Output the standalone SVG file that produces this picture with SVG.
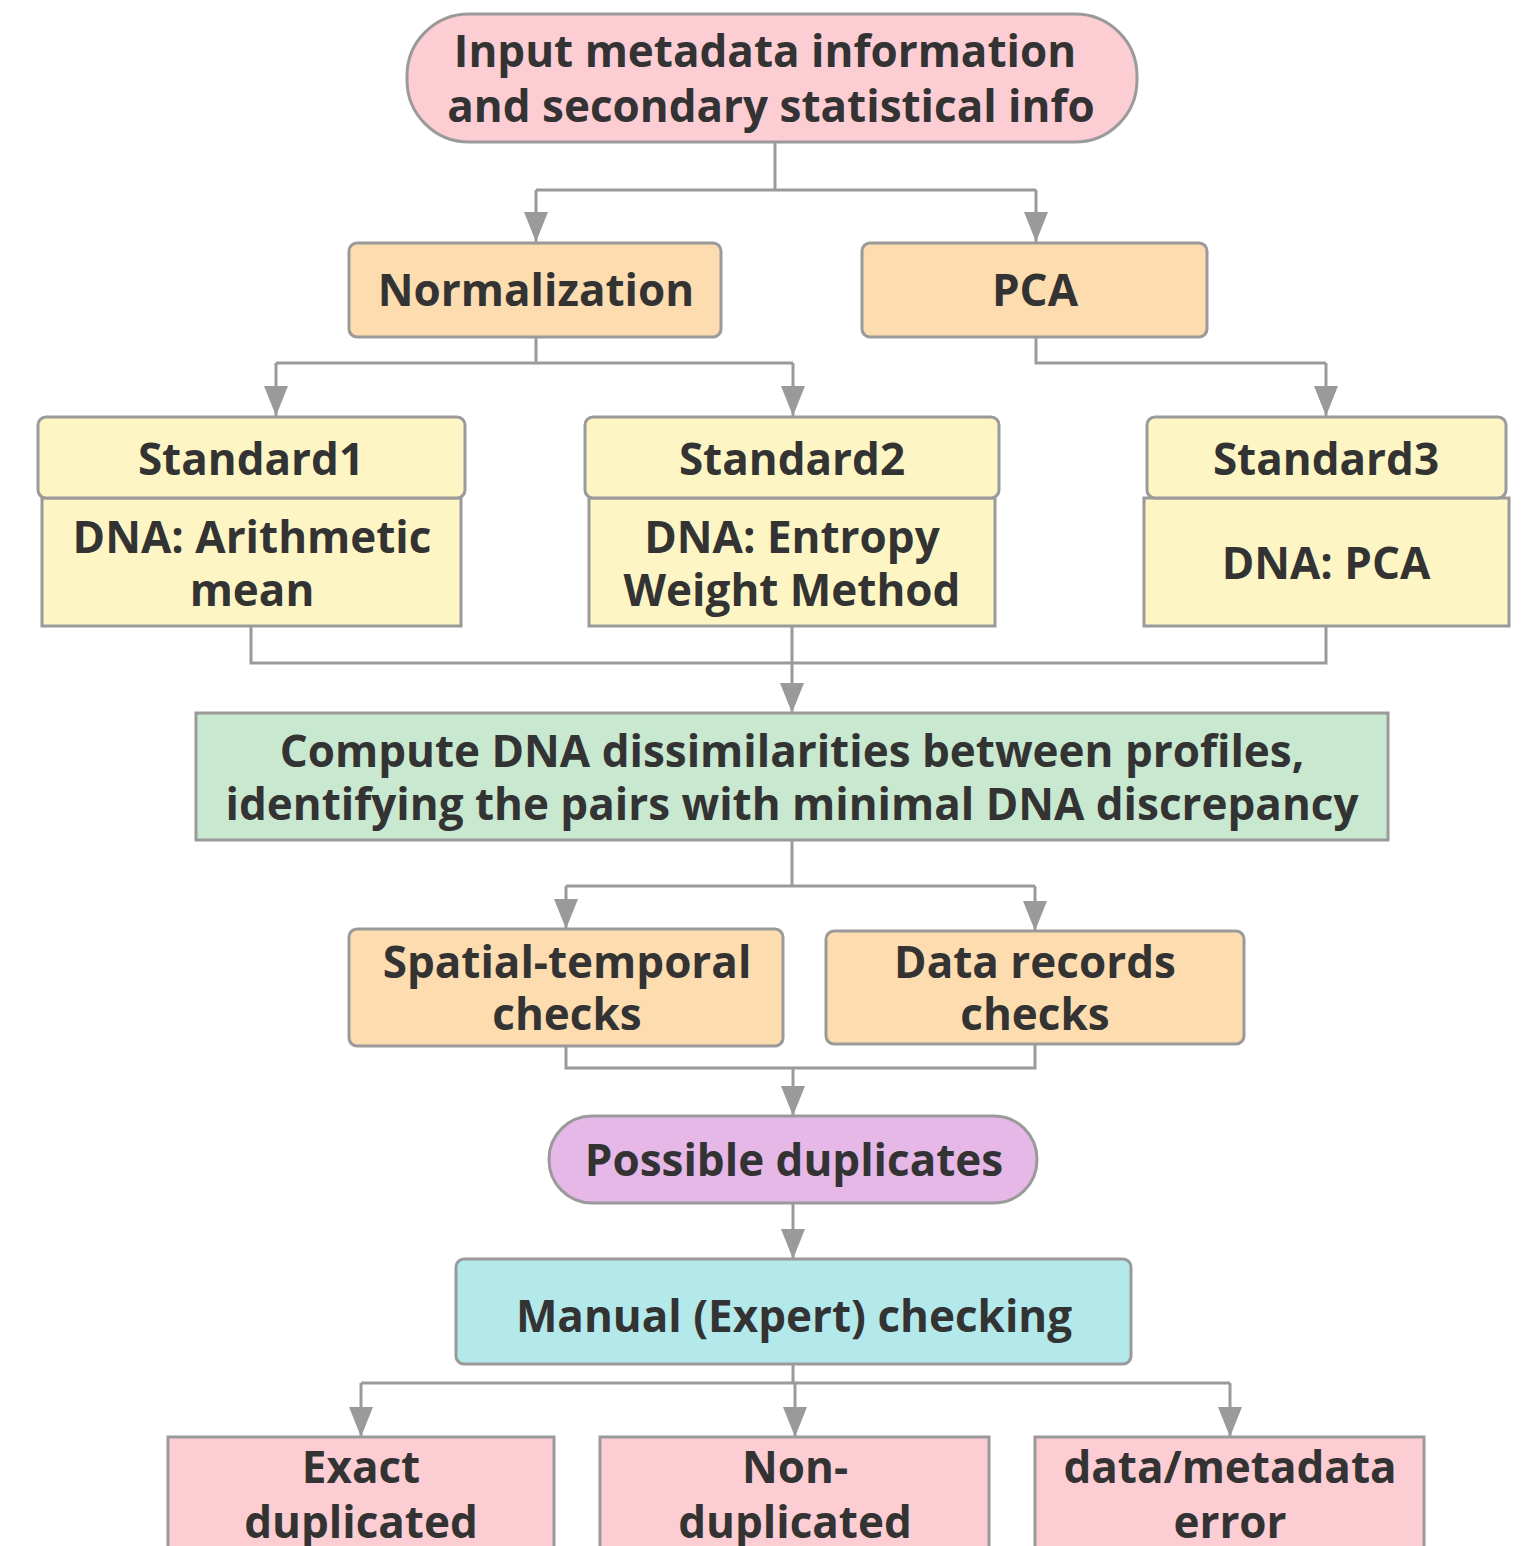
<svg xmlns="http://www.w3.org/2000/svg" width="1522" height="1546" viewBox="0 0 1522 1546">
<style>
text{font-family:"Open Sans","Noto Sans","DejaVu Sans",sans-serif;font-weight:bold;fill:#333;text-anchor:middle;font-size:44px}
.n{stroke:#9a9a9a;stroke-width:3}
.pink{fill:#fdcdd4}.orange{fill:#fddcb0}.yellow{fill:#fdf6c4}.green{fill:#c9e8d0}.purple{fill:#e5b8e7}.cyan{fill:#b4e9eb}
.c{fill:none;stroke:#9a9a9a;stroke-width:3}
</style>
<defs>
<marker id="ah" viewBox="0 0 30 24" refX="30" refY="12" markerWidth="30" markerHeight="24" markerUnits="userSpaceOnUse" orient="auto">
<path d="M0,0 L30,12 L0,24 Z" fill="#9a9a9a"/>
</marker>
</defs>
<g id="connectors">
<path class="c" d="M775,142 V190 M536,190 H1036"/>
<path class="c" d="M536,190 V242" marker-end="url(#ah)"/>
<path class="c" d="M1036,190 V242" marker-end="url(#ah)"/>
<path class="c" d="M536,337 V363 M276,363 H793"/>
<path class="c" d="M276,363 V416" marker-end="url(#ah)"/>
<path class="c" d="M793,363 V416" marker-end="url(#ah)"/>
<path class="c" d="M1036,337 V363 H1326"/>
<path class="c" d="M1326,363 V416" marker-end="url(#ah)"/>
<path class="c" d="M251,626 V663 H1326 V626 M792,626 V663"/>
<path class="c" d="M792,663 V713" marker-end="url(#ah)"/>
<path class="c" d="M792,840 V886 M566,886 H1035"/>
<path class="c" d="M566,886 V929" marker-end="url(#ah)"/>
<path class="c" d="M1035,886 V931" marker-end="url(#ah)"/>
<path class="c" d="M566,1046 V1068 H1035 V1044"/>
<path class="c" d="M793,1068 V1116" marker-end="url(#ah)"/>
<path class="c" d="M793,1203 V1259" marker-end="url(#ah)"/>
<path class="c" d="M793,1364 V1383 M361,1383 H1230"/>
<path class="c" d="M361,1383 V1437" marker-end="url(#ah)"/>
<path class="c" d="M795,1383 V1437" marker-end="url(#ah)"/>
<path class="c" d="M1230,1383 V1437" marker-end="url(#ah)"/>
</g>
<g id="input">
<rect class="n pink" x="407" y="14" width="730" height="128" rx="62"/>
<text x="765" y="67" font-size="45.5">Input metadata information</text>
<text x="771" y="122" font-size="45.5">and secondary statistical info</text>
</g>
<g id="normalization">
<rect class="n orange" x="349" y="243" width="372" height="94" rx="8"/>
<text x="536" y="306" font-size="45.5">Normalization</text>
</g>
<g id="pca">
<rect class="n orange" x="862" y="243" width="345" height="94" rx="8"/>
<text x="1035" y="306" font-size="45.5">PCA</text>
</g>
<g id="standard1">
<rect class="n yellow" x="42" y="498" width="419" height="128"/>
<rect class="n yellow" x="38" y="417" width="427" height="81" rx="8"/>
<text x="251" y="475">Standard1</text>
<text x="252" y="553">DNA: Arithmetic</text>
<text x="252" y="606">mean</text>
</g>
<g id="standard2">
<rect class="n yellow" x="589" y="498" width="406" height="128"/>
<rect class="n yellow" x="585" y="417" width="414" height="81" rx="8"/>
<text x="792" y="475">Standard2</text>
<text x="792" y="553">DNA: Entropy</text>
<text x="792" y="606">Weight Method</text>
</g>
<g id="standard3">
<rect class="n yellow" x="1144" y="498" width="365" height="128"/>
<rect class="n yellow" x="1147" y="417" width="359" height="81" rx="8"/>
<text x="1326" y="475">Standard3</text>
<text x="1326" y="579">DNA: PCA</text>
</g>
<g id="compute">
<rect class="n green" x="196" y="713" width="1192" height="127"/>
<text x="792" y="767">Compute DNA dissimilarities between profiles,</text>
<text x="792" y="820">identifying the pairs with minimal DNA discrepancy</text>
</g>
<g id="spatial">
<rect class="n orange" x="349" y="929" width="434" height="117" rx="8"/>
<text x="567" y="978">Spatial-temporal</text>
<text x="567" y="1030">checks</text>
</g>
<g id="records">
<rect class="n orange" x="826" y="931" width="418" height="113" rx="8"/>
<text x="1035" y="978">Data records</text>
<text x="1035" y="1030">checks</text>
</g>
<g id="possible">
<rect class="n purple" x="549" y="1116" width="488" height="87" rx="43"/>
<text x="794" y="1176">Possible duplicates</text>
</g>
<g id="manual">
<rect class="n cyan" x="456" y="1259" width="675" height="105" rx="8"/>
<text x="794" y="1332" font-size="53.5">Manual (Expert) checking</text>
</g>
<g id="exact">
<rect class="n pink" x="168" y="1437" width="386" height="120"/>
<text x="361" y="1483">Exact</text>
<text x="361" y="1538">duplicated</text>
</g>
<g id="nondup">
<rect class="n pink" x="600" y="1437" width="389" height="120"/>
<text x="795" y="1483">Non-</text>
<text x="795" y="1538">duplicated</text>
</g>
<g id="error">
<rect class="n pink" x="1035" y="1437" width="389" height="120"/>
<text x="1230" y="1483">data/metadata</text>
<text x="1230" y="1538">error</text>
</g>
</svg>
